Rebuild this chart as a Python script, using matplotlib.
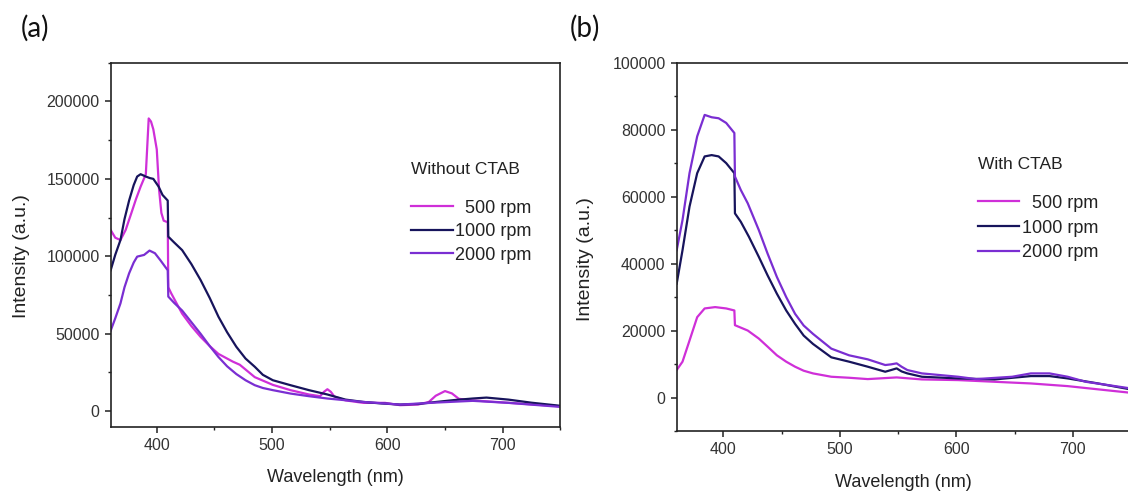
import matplotlib
matplotlib.use("Agg")
import matplotlib.pyplot as plt
from matplotlib.ticker import MultipleLocator

# ---------------- data: panel (a) Without CTAB ----------------
a_500_x = [360, 364, 368.5, 373, 378, 382, 386, 390.5, 393, 395, 397, 400, 402, 404, 406, 409.5, 410,
           412.6, 422, 430, 438, 446, 453.5, 466, 472, 485, 500.7, 516, 532, 541.6, 545, 548, 551,
           554, 563.7, 579, 598, 611, 626.6, 636, 642, 650, 656, 662, 674, 705.6, 750]
a_500_y = [117000, 112000, 110500, 117000, 128000, 137000, 145000, 153000, 189000, 187000, 182000,
           169000, 143000, 128000, 123000, 122000, 80000, 76000, 63000, 55000, 48000, 42000, 37000,
           32000, 30000, 22000, 17000, 13600, 10800, 9700, 12500, 14200, 12500, 9500, 7000, 5400,
           5400, 3900, 4300, 6000, 10000, 13000, 11500, 8000, 7000, 5400, 3200]

a_1000_x = [360, 364, 368.5, 372, 376, 380, 383, 386, 390.5, 394, 397, 401.6, 405, 409.5, 410, 415,
            422, 430, 438, 446, 453.5, 461, 469, 477, 485, 492, 500.7, 516, 532, 548, 563.7, 579,
            595, 611, 627, 642.6, 658, 674, 686, 705, 725, 750]
a_1000_y = [91000, 101000, 110500, 124000, 136000, 146000, 151500, 153000, 151500, 150500, 150000,
            145000, 139600, 136000, 112700, 109000, 104000, 95000, 84700, 73000, 61000, 51000,
            41600, 34000, 28700, 23500, 20000, 16800, 13600, 10800, 7500, 6000, 5000, 4300, 4700,
            6000, 7200, 8200, 8800, 7500, 5500, 3500]

a_2000_x = [360, 364, 368.5, 372, 376, 380, 383, 389, 393.7, 398.4, 403, 409.5, 410, 415, 422, 430,
            438, 446, 453.5, 461, 469, 477, 485, 492, 500.7, 516, 532, 548, 579, 611, 642.6, 674,
            705, 750]
a_2000_y = [52000, 60000, 69600, 80000, 89000, 96000, 99800, 100900, 103700, 102000, 97600, 91000,
            74000, 70000, 65000, 57500, 50000, 42000, 35000, 29000, 24000, 20000, 16800, 15000,
            13600, 11400, 9700, 8200, 6000, 4300, 5600, 6700, 5400, 2800]

# ---------------- data: panel (b) With CTAB ----------------
b_500_x = [360, 365, 371, 377.6, 384, 393, 402.5, 409.5, 410, 421, 430.5, 438, 446, 454, 461.6, 469,
           477, 492.7, 508, 524, 548.8, 570.5, 601.6, 632.8, 664, 695.6, 750]
b_500_y = [8200, 10700, 17000, 24000, 26600, 27000, 26600, 26000, 21600, 20000, 17600, 15200,
           12600, 10700, 9200, 8000, 7200, 6200, 5900, 5500, 6000, 5400, 5200, 4700, 4200, 3400,
           1400]

b_1000_x = [360, 365, 371, 377.6, 384, 390, 396, 402.5, 409.5, 410, 415, 422, 430.5, 438, 446, 454,
            461.6, 469, 477, 492.7, 508, 524, 539, 544, 548.8, 553, 558, 570.5, 601.6, 632.8, 664,
            680, 695.6, 720, 750]
b_1000_y = [34000, 44000, 57000, 67000, 72000, 72400, 72000, 70000, 67000, 55000, 52500, 48000,
            42000, 36500, 31000, 26000, 22000, 18500, 16000, 12000, 10700, 9200, 7700, 8200, 8700,
            7800, 7200, 6200, 5700, 5400, 6400, 6400, 5700, 4300, 2400]

b_2000_x = [360, 365, 371, 377.6, 384, 390, 396, 402.5, 409.5, 410, 415, 421, 430.5, 438, 446, 454,
            461.6, 469, 477, 492.7, 508, 524, 539, 544, 548.8, 553, 558, 570.5, 601.6, 617, 648,
            664, 680, 695.6, 711, 750]
b_2000_y = [44000, 53000, 67000, 78000, 84400, 83700, 83400, 82000, 79000, 66000, 62000, 58000,
            50000, 43000, 36000, 30000, 25000, 21500, 19000, 14600, 12600, 11400, 9700, 9900,
            10200, 9200, 8200, 7200, 6200, 5500, 6200, 7200, 7200, 6200, 4700, 2700]

labels = ["  500 rpm", "1000 rpm", "2000 rpm"]
colors = ["#cf2fd8", "#17145c", "#7a2ed2"]
panel_titles = ["Without CTAB", "With CTAB"]
panel_letters = ["(a)", "(b)"]

plt.rcParams["font.family"] = ["Liberation Sans", "DejaVu Sans"]

fig = plt.figure(figsize=(11.28, 4.92), dpi=100)
ax_a = fig.add_axes([0.0981, 0.1327, 0.3986, 0.7399])
ax_b = fig.add_axes([0.5999, 0.1240, 0.4028, 0.7486])

series = [
    (ax_a, [(a_500_x, a_500_y), (a_1000_x, a_1000_y), (a_2000_x, a_2000_y)]),
    (ax_b, [(b_500_x, b_500_y), (b_1000_x, b_1000_y), (b_2000_x, b_2000_y)]),
]

for i, (ax, data) in enumerate(series):
    for (x, y), lab, c in zip(data, labels, colors):
        ax.plot(x, y, color=c, lw=1.6, label=lab)
    ax.set_xlim(360, 750)
    ax.xaxis.set_major_locator(MultipleLocator(100))
    ax.xaxis.set_minor_locator(MultipleLocator(50))
    for sp in ax.spines.values():
        sp.set_linewidth(1.2)
        sp.set_color("#222222")
    ax.tick_params(which="major", direction="out", length=4.5, width=1.1,
                   labelsize=11.5, labelcolor="#333333", color="#222222")
    ax.tick_params(which="minor", direction="out", length=2.5, width=1.0, color="#222222")
    ax.set_xlabel("Wavelength (nm)", fontsize=13, color="#222222")
    ax.set_ylabel("Intensity (a.u.)", fontsize=14, color="#222222")

ax_a.set_ylim(-10000, 225000)
ax_a.yaxis.set_major_locator(MultipleLocator(50000))
ax_a.yaxis.set_minor_locator(MultipleLocator(25000))
ax_b.set_ylim(-10000, 100000)
ax_b.yaxis.set_major_locator(MultipleLocator(20000))
ax_b.yaxis.set_minor_locator(MultipleLocator(10000))

ax_a.xaxis.set_label_coords(0.50, -0.115)
ax_a.yaxis.set_label_coords(-0.18, 0.47)
ax_b.xaxis.set_label_coords(0.50, -0.118)
ax_b.yaxis.set_label_coords(-0.183, 0.467)

anchors = [(0.668, 0.726), (0.663, 0.743)]
spacings = [0.36, 0.44]
for ax, t, anc, ls in zip([ax_a, ax_b], panel_titles, anchors, spacings):
    leg = ax.legend(loc="upper left", bbox_to_anchor=anc, frameon=False, fontsize=13,
                    title=t, title_fontsize=12.5, alignment="left", handlelength=2.3,
                    handletextpad=0.15, labelspacing=ls, borderpad=0, borderaxespad=0)
    leg.get_title().set_color("#222222")
    for txt in leg.get_texts():
        txt.set_color("#222222")
    leg._legend_box.sep = 16

fig.text(35 / 1128, 1 - 28 / 492, panel_letters[0], fontsize=20, family="Lato",
         ha="center", va="center", color="#111111")
fig.text(585 / 1128, 1 - 28 / 492, panel_letters[1], fontsize=20, family="Lato",
         ha="center", va="center", color="#111111")

fig.savefig("out.png", dpi=100)
